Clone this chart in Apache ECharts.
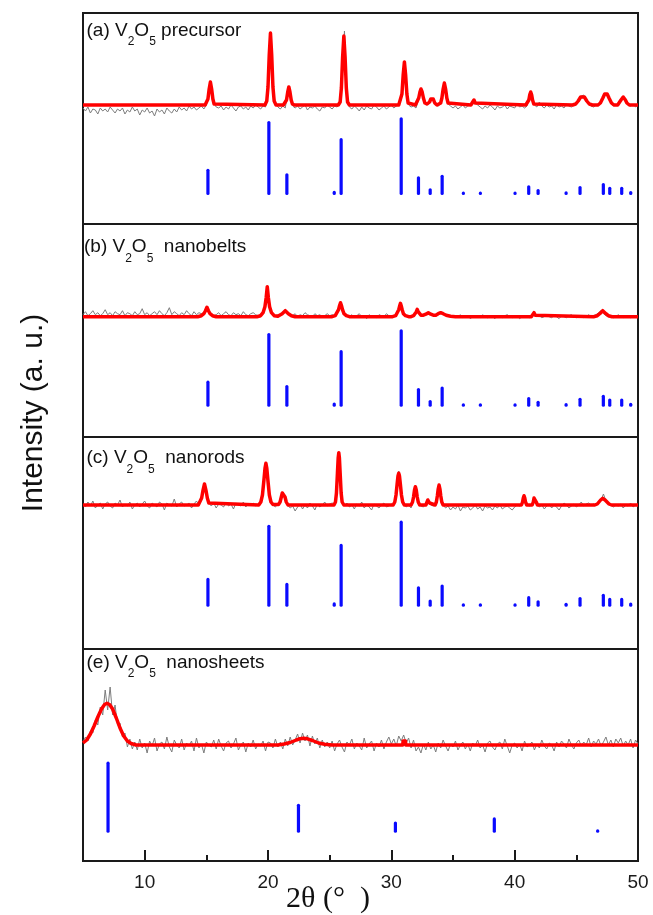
<!DOCTYPE html>
<html><head><meta charset="utf-8">
<script src="https://cdn.jsdelivr.net/npm/echarts@6/dist/echarts.min.js"></script>
<style>html,body{margin:0;padding:0;background:#fff}#c{width:653px;height:915px}</style>
</head><body><div id="c"></div>
<script>
// ---------------- DATA ----------------
const xTicks = [10, 20, 30, 40, 50];
const xMinorTicks = [15, 25, 35, 45];
const scanStart = 5, scanStep = 0.2;   // 2θ scan grid of the measured patterns

// measured (gray) patterns, one value per scan step, baseline = 0 (a.u.)
const obsA = [-3,-6,-2,-8,-4,-5,-9,-3,-6,-4, -7,-2,-5,-8,-4,-6,-3,-9,-5,-7, -2,-6,-4,-10,-5,-7,-3,-8,-6,-11, -4,-7,-5,-9,-3,-6,-8,-4,-7,-2, -5,-3,-6,-1,-4,-2,-5,-3,-1,-4,
  0,12,18,2,-2,
  -3,-1,-5,-2,-4,0,-3,-6,-2,-1,-4,-2,-5,-1,-3,0,-2,-4,-1,-2,
  17,73,17,1,
  -2,-4,-1,-3,
  12,11,-1,
  -3,-1,-4,-2,0,-5,-2,-3,-1,-4,-6,-2,-3,0,-2,-4,-1,-2,
  1,31,74,9,-2,
  -4,-1,-3,-6,-2,-5,-1,-3,-4,0,-2,-5,-3,-1,-4,-2,0,-3,-1,
  0,5,34,22,0,
  -2,-1,-3,
  5,16,6,0,
  1,5,5,0,
  -1,1,15,15,1,-1,
  -3,-1,-4,-2,0,-3,-1,
  0,1,2,0,
  -2,-4,-1,-3,0,-2,-5,-1,-3,-2,0,-4,-1,-2,-3,1,-2,-1,-3,-1,
  12,8,0,
  -2,3,-1,-3,0,-2,-1,-4,0,-2,-1,-3,1,-1,-2,0,
  1,5,9,10,4,1,-1,
  -2,0,-1,
  3,9,12,8,2,-1,
  0,0,5,8,4,0,
  -1,1,-2,0];
const obsB = [2,5,1,3,6,2,4,1,3,7, 2,4,1,5,3,2,6,1,4,3, 1,5,2,3,8,2,4,1,3,5, 2,6,3,1,4,9,2,5,3,1, 4,2,6,3,1,5,2,4,3,4,
  8,6,3,1,
  2,4,1,3,5,2,1,4,2,3,1,5,2,1,3,4,2,1,2,
  4,14,23,6,2,
  1,2,
  2,4,6,4,2,
  1,3,0,2,1,4,2,1,0,3,1,2,0,1,3,1,2,1,
  3,11,9,2,
  1,0,2,-1,1,3,0,1,-2,2,0,1,-1,2,1,0,3,1,0,1,
  1,7,13,3,1,
  0,1,
  1,4,5,1,
  2,2,4,
  2,1,
  2,3,4,3,2,
  1,0,-1,1,0,2,-1,0,1,-2,0,1,0,-1,2,0,-1,1,0,-2,1,0,-1,1,2,0,-1,0,1,-2,0,1,0,-1,
  0,4,0,
  1,-1,0,2,0,-1,1,0,-2,1,0,-1,1,2,0,-1,0,1,-1,0,2,0,1,
  2,4,6,3,1,
  0,1,-1,0,2,0,-1,1,0,-1,1,0,1];
const obsC = [1,-2,3,-1,4,-3,0,2,-4,1, 3,-1,-3,2,0,5,-2,1,-1,3, -4,0,2,-2,1,4,-1,-3,2,0, -2,3,1,-5,2,0,-1,6,-2,1, 3,-1,0,2,-3,1,4,0,
  5,18,13,2,-1,
  2,-3,1,0,-2,3,-1,1,-4,2,0,-1,3,-2,1,0,2,-1,1,
  2,15,42,23,4,0,
  -2,1,
  3,13,7,0,
  -3,-1,-6,-2,1,-4,0,-3,2,-1,-5,1,-2,0,3,-1,1,2,
  1,20,45,4,
  -1,2,-2,0,-4,1,-1,3,-3,0,-2,-5,1,-1,-3,0,2,-2,-1,1,
  0,12,34,12,1,
  -2,0,-3,
  8,16,2,-1,
  -2,1,5,0,-1,
  1,16,12,0,
  -3,-1,-5,-2,-4,0,-6,-2,-3,-1,-5,-3,0,-4,-2,-6,-1,-3,-2,-5,-1,-3,0,-4,-2,-1,-3,-5,-2,0,-1,
  1,8,0,
  -1,0,
  8,1,
  -2,0,-4,-1,1,-3,0,-2,-5,-1,2,0,-3,-1,1,-2,0,3,-1,1,2,0,1,
  0,2,5,11,4,1,0,
  -2,0,-1,1,-3,0,-1,2,-2,0,-1];
const obsE = [3,8,4,14,12,25,20,38,30,55,35,58,30,40,20,22,8,12,-2,6,-4,3,
  -5,6,-3,2,-8,4,-1,7,-6,1, 3,-4,8,-2,-7,5,0,-3,6,-5, 2,-1,4,-6,7,-3,1,-8,3,0, -2,5,-4,6,-1,-6,2,4,-3,1, 7,-5,0,3,-7,2,-2,5,-4,1, -1,4,-6,3,2,-3,6,-2,
  3,-4,6,-1,8,0,5,11,2,12,4,10,-1,9,1,7,-3,5,-2,3,
  -3,4,-6,1,5,-2,-7,3,0,6, -4,2,-1,-5,7,-3,1,4,-6,2, -2,5,-4,3,8,1,6,-1,9,4, 10,2,7,-3,5,-6,-2,-8,1,-5,
  3,-4,0,-7,2,-3,5,-1,-6,1, -2,4,-5,0,3,-4,1,-6,2,-1, 5,-3,0,-7,2,4,-2,-5,1,3, -4,6,-1,-8,0,2,-3,1,-6,4,
  -2,0,3,-5,1,-3,5,-1,-4,2, 0,-6,3,-2,4,1,-3,6,0,-4, 2,5,-1,3,0,7,-2,4,1,6, -1,3,8,0,5,-2,6,2,7,-1, 4,0,6,-3,5,1];

// fitted (red) profiles [2θ, intensity]
const fitA = [[5,0],[14.9,0],[15.03,1],[15.13,6],[15.23,16],[15.33,23],[15.43,16],[15.53,6],[15.63,1],[15.78,0],
  [19.75,0],[19.9,4],[20.0,18],[20.1,50],[20.2,72],[20.3,50],[20.4,18],[20.5,4],[20.65,0],
  [21.25,0],[21.4,1],[21.5,5],[21.6,13],[21.69,18],[21.78,13],[21.88,5],[21.98,1],[22.15,0],
  [25.7,0],[25.85,3],[25.95,17],[26.05,48],[26.15,69],[26.25,48],[26.35,17],[26.45,3],[26.6,0],
  [30.6,0],[30.75,2],[30.86,11],[30.96,30],[31.06,43],[31.16,30],[31.26,11],[31.36,2],[31.5,0],
  [31.95,0],[32.1,2],[32.22,7],[32.32,13],[32.4,16],[32.5,13],[32.6,7],[32.72,2],[32.9,1],
  [33.1,3],[33.2,6],[33.3,8],[33.4,6],[33.52,2],[33.7,0],
  [33.85,0],[34.0,2],[34.1,7],[34.2,16],[34.3,22],[34.4,16],[34.5,7],[34.6,2],[34.75,0],
  [36.45,0],[36.6,2],[36.7,5],[36.8,2],[36.95,0],
  [40.9,0],[41.05,1],[41.15,5],[41.22,10],[41.3,13],[41.38,10],[41.45,5],[41.55,1],[41.7,0],
  [44.7,0],[44.95,1],[45.15,4],[45.35,8],[45.5,9],[45.65,8],[45.85,4],[46.05,1],[46.3,0],
  [46.75,0],[46.95,2],[47.15,7],[47.3,11],[47.4,12],[47.5,11],[47.65,7],[47.85,2],[48.05,0],
  [48.35,0],[48.5,2],[48.62,5],[48.72,7],[48.8,8],[48.88,7],[48.98,5],[49.1,2],[49.3,0],[50,0]];
const fitB = [[5,0],[14.3,0],[14.6,1],[14.8,3],[14.93,6],[15.05,9.4],[15.17,6],[15.3,3],[15.5,1],[15.8,0],
  [19.1,0],[19.4,1],[19.6,4],[19.75,10],[19.85,19],[19.94,30],[20.03,19],[20.13,10],[20.28,4],[20.5,1],[20.8,0.5],
  [20.95,1],[21.15,3],[21.3,5],[21.4,6],[21.5,5],[21.65,3],[21.9,1],[22.2,0],
  [25.2,0],[25.45,1],[25.6,3],[25.72,7],[25.8,11],[25.88,14],[25.96,11],[26.04,7],[26.16,3],[26.35,1],[26.6,0],
  [30.1,0],[30.35,1],[30.5,3],[30.6,7],[30.68,11],[30.74,13.4],[30.8,11],[30.88,7],[30.98,3],[31.15,1],[31.4,0],
  [31.6,0],[31.8,1],[31.95,3],[32.03,5],[32.1,7.4],[32.17,5],[32.25,3],[32.4,1.5],
  [32.6,1.5],[32.8,2.5],[33.0,4],[33.2,2.5],[33.4,1.5],
  [33.6,1.5],[33.8,3],[34.0,4],[34.2,3],[34.45,1.5],[34.8,0.5],[35.2,0],
  [41.35,0],[41.47,1.5],[41.57,4],[41.67,1.5],[41.8,0],
  [46.4,0],[46.7,1],[46.9,3],[47.05,5],[47.14,6],[47.25,5],[47.4,3],[47.6,1],[47.9,0],[50,0]];
const fitC = [[5,0],[14.35,0],[14.5,2],[14.62,7],[14.72,14],[14.85,21],[14.98,14],[15.08,7],[15.2,2],[15.35,0],
  [19.25,0],[19.42,3],[19.55,10],[19.67,25],[19.76,37],[19.83,41.7],[19.9,37],[19.99,25],[20.11,10],[20.24,3],[20.4,0.5],
  [20.85,0.5],[20.98,3],[21.08,8],[21.16,12],[21.23,14],[21.3,12],[21.38,8],[21.48,3],[21.62,0],
  [25.35,0],[25.47,3],[25.55,12],[25.63,32],[25.69,47],[25.74,52.3],[25.79,47],[25.85,32],[25.93,12],[26.01,3],[26.15,0],
  [30.15,0],[30.28,3],[30.38,10],[30.47,21],[30.54,29],[30.6,31.7],[30.66,29],[30.73,21],[30.82,10],[30.92,3],[31.05,0],
  [31.6,0],[31.72,3],[31.8,8],[31.88,15],[31.95,18.3],[32.02,15],[32.1,8],[32.18,3],[32.3,0],
  [32.8,0],[32.9,2],[32.96,5],[33.0,5.7],[33.04,5],[33.1,2],[33.2,0],
  [33.55,0],[33.65,3],[33.73,9],[33.8,16],[33.87,20],[33.94,16],[34.01,9],[34.09,3],[34.2,0],
  [40.55,0],[40.64,3],[40.7,7],[40.76,9.3],[40.82,7],[40.88,3],[40.98,0],
  [41.42,0],[41.51,3],[41.57,7],[41.63,9],[41.69,7],[41.75,3],[41.85,0],
  [46.5,0],[46.7,1],[46.85,3],[46.97,5],[47.07,6.4],[47.14,6.7],[47.22,6.4],[47.33,5],[47.48,3],[47.65,1],[47.85,0],[50,0]];
const fitE = [[5,2],[5.3,5],[5.6,11],[5.9,19],[6.2,28],[6.5,36],[6.75,40.5],[6.94,41.7],[7.15,40.5],[7.4,36],[7.7,27],[8.0,17],[8.3,9],[8.6,4],[8.9,1.5],[9.3,0],
  [20.8,0],[21.3,1],[21.8,2.5],[22.3,5],[22.6,6.3],[22.88,6.7],[23.2,6.2],[23.6,4.5],[24.1,2],[24.6,0.7],[25.2,0],
  [30.93,0],[30.95,4],[31.15,4],[31.17,0],[50,0]];

// reference stick patterns [2θ, relative intensity]
const refV2O5 = [[15.13,31],[20.07,95],[21.53,25],[25.37,1.5],[25.93,72],[30.8,100],[32.2,21],[33.15,5],[34.12,23],
  [35.84,0.5],[37.22,0.5],[40.03,0.5],[41.14,9],[41.9,4],[44.17,1],[45.3,8],[47.19,12],[47.71,7],[48.68,7],[49.41,1.3]];
const refSheets = [[7.03,100],[22.47,38],[30.33,12],[38.35,18],[46.73,0.5]];

const titles = [
  '{m|(a) V}{s|2}{m|O}{s|5}{m| precursor}',
  '{m|(b) V}{s|2}{m|O}{s|5}{m|  nanobelts}',
  '{m|(c) V}{s|2}{m|O}{s|5}{m|  nanorods}',
  '{m|(e) V}{s|2}{m|O}{s|5}{m|  nanosheets}'
];
const xName = '2θ (°  )';
const yName = 'Intensity (a. u.)';

// ---------------- LAYOUT ----------------
const obsList = [obsA, obsB, obsC, obsE];
const fitList = [fitA, fitB, fitC, fitE];
const refList = [refV2O5, refV2O5, refV2O5, refSheets];
for (const o of obsList) if (o.length !== 226) throw new Error('obs length ' + o.length);

const layout = [
  {top: 13, height: 211, obs: [-119, 92], ref: [-40.8, 241.6], titleX: 86.5, titleY: 21},
  {top: 224, height: 213, obs: [-120.3, 92.7], ref: [-42.7, 243.5], titleX: 84, titleY: 237.5},
  {top: 437, height: 212, obs: [-144, 68], ref: [-52.8, 202.7], titleX: 86.5, titleY: 448.5},
  {top: 649, height: 212, obs: [-116, 96], ref: [-43.8, 267.9], titleX: 86.5, titleY: 653}
];
const FONT = '"Liberation Sans", Arial, sans-serif';
const ink = '#1a1a1a';

const grid = [], xAxis = [], yAxis = [], series = [], graphic = [];
layout.forEach((L, p) => {
  grid.push({left: 83, right: 15, top: L.top, height: L.height, show: true, borderColor: ink, borderWidth: 2, backgroundColor: 'transparent'});
  const bottom = p === layout.length - 1;
  xAxis.push({
    gridIndex: p, type: 'value', min: 5, max: 50, show: bottom, position: 'bottom',
    axisLine: {show: true, onZero: false, lineStyle: {color: ink, width: 2}},
    axisTick: {show: true, inside: true, length: 11, customValues: xTicks, lineStyle: {color: ink, width: 2}},
    axisLabel: {show: true, customValues: xTicks, color: ink, fontSize: 19, fontFamily: FONT, margin: 12},
    splitLine: {show: false}
  });
  yAxis.push({gridIndex: p, type: 'value', min: L.obs[0], max: L.obs[1], show: false, splitLine: {show: false}});
  yAxis.push({gridIndex: p, type: 'value', min: L.ref[0], max: L.ref[1], show: false, splitLine: {show: false}});
  series.push({
    type: 'line', xAxisIndex: p, yAxisIndex: 2 * p, showSymbol: false, silent: true,
    data: obsList[p].map((v, i) => [+(scanStart + i * scanStep).toFixed(2), v]),
    lineStyle: {color: '#7d7d7d', width: 1}, z: 2
  });
  series.push({
    type: 'line', xAxisIndex: p, yAxisIndex: 2 * p, showSymbol: false, silent: true,
    data: fitList[p], lineStyle: {color: '#ff0000', width: 3.5, join: 'round'}, z: 3
  });
  series.push({
    type: 'custom', xAxisIndex: p, yAxisIndex: 2 * p + 1, silent: true, z: 3,
    data: refList[p], encode: {x: 0, y: 1},
    renderItem: (params, api) => {
      const x = api.value(0), h = api.value(1);
      const p0 = api.coord([x, 0]), p1 = api.coord([x, h]);
      return {type: 'line', shape: {x1: p0[0], y1: p0[1], x2: p1[0], y2: p1[1]},
              style: {stroke: '#0a0aff', lineWidth: 3.2, lineCap: 'round'}};
    }
  });
  graphic.push({
    type: 'text', x: L.titleX, y: L.titleY, silent: true,
    style: {
      text: titles[p], verticalAlign: 'top', align: 'left', fill: '#111',
      rich: {
        m: {fontSize: 19, fontFamily: FONT, lineHeight: 20, verticalAlign: 'top', fill: '#111', color: '#111'},
        s: {fontSize: 12, fontFamily: FONT, lineHeight: 12, verticalAlign: 'top', padding: [15, 0, 0, 0], fill: '#111', color: '#111'}
      }
    }
  });
});
// minor ticks on the bottom axis
xAxis.push({
  gridIndex: 3, type: 'value', min: 5, max: 50, position: 'bottom',
  axisLine: {show: false, onZero: false},
  axisTick: {show: true, inside: true, length: 6, customValues: xMinorTicks, lineStyle: {color: ink, width: 2}},
  axisLabel: {show: false}, splitLine: {show: false}
});

graphic.push({
  type: 'text', x: 34, y: 413, rotation: Math.PI / 2, silent: true,
  style: {text: yName, font: '30px ' + FONT, fill: '#111', align: 'center', verticalAlign: 'middle'}
});
graphic.push({
  type: 'text', x: 328, y: 899, silent: true,
  style: {text: xName, font: '30px "Liberation Serif", "Times New Roman", serif', fill: '#111', align: 'center', verticalAlign: 'middle'}
});

const chart = echarts.init(document.getElementById('c'), null, {renderer: 'canvas'});
chart.setOption({animation: false, backgroundColor: '#fff', grid, xAxis, yAxis, series, graphic});
</script></body></html>
